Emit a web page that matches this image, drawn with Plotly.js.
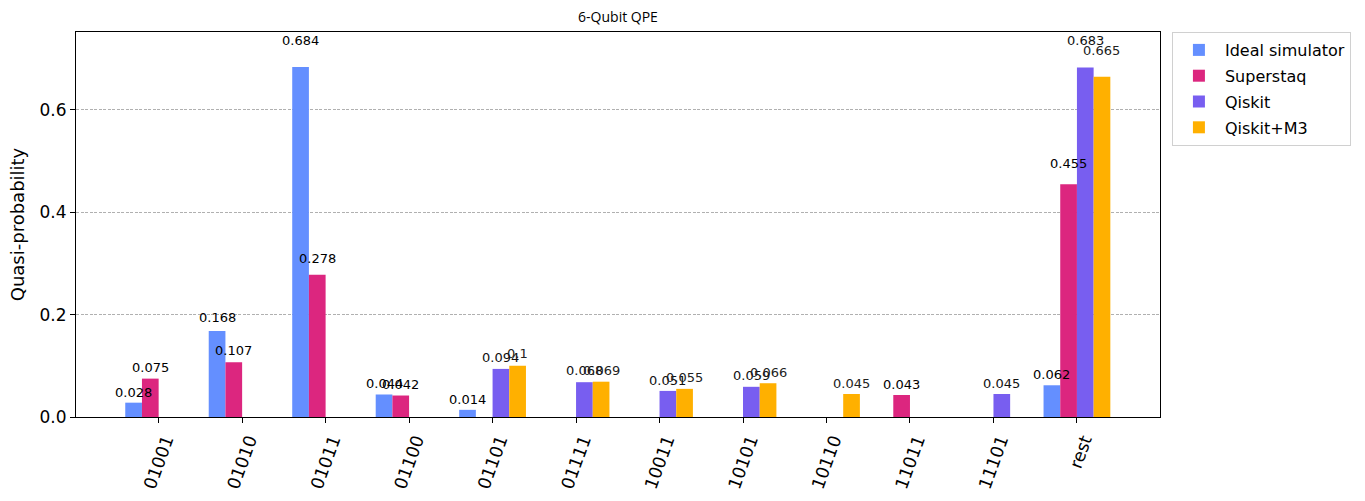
<!DOCTYPE html>
<html lang="en">
<head>
    <meta charset="UTF-8">
    <title>6-Qubit QPE</title>
    <script src="https://cdn.plot.ly/plotly-3.0.1.min.js"></script>
    <style>
        body { margin: 0; background: #fff; }
        #chart { width: 1365px; height: 501px; }
    </style>
</head>
<body>
<div id="chart"></div>

<script>
    // bitstrings on the x axis
    let states = ['01001', '01010', '01011', '01100', '01101', '01111',
        '10011', '10101', '10110', '11011', '11101', 'rest'];

    // quasi-probabilities, null where the bar is missing
    let idealSim = [0.028, 0.168, 0.684, 0.044, 0.014, null, null, null, null, null, null, 0.062];
    let superstaq = [0.075, 0.107, 0.278, 0.042, null, null, null, null, null, 0.043, null, 0.455];
    let qiskit = [null, null, null, null, 0.094, 0.068, 0.051, 0.059, null, null, 0.045, 0.683];
    let qiskitM3 = [null, null, null, null, 0.1, 0.069, 0.055, 0.066, 0.045, null, null, 0.665];

    let seriesNames = ['Ideal simulator', 'Superstaq', 'Qiskit', 'Qiskit+M3'];
    let seriesColors = ['#648fff', '#dc267f', '#785ef0', '#ffb000'];
    let seriesValues = [idealSim, superstaq, qiskit, qiskitM3];

    let font = 'DejaVu Sans, sans-serif';

    let data = [];
    let annotations = [];
    let offsets = [-0.3, -0.1, 0.1, 0.3];
    let labelColors = ['#000', '#000', '#111', '#222'];

    for (let s = 0; s < seriesValues.length; s++) {
        data.push({
            x: states,
            y: seriesValues[s],
            type: 'bar',
            name: seriesNames[s],
            legendgroup: 'g' + s,
            marker: {color: seriesColors[s]},
            hoverinfo: 'x+y+name'
        });

        // value labels just above each bar, like qiskit's plot_histogram
        seriesValues[s].forEach(function (v, i) {
            if (v === null) return;
            annotations.push({
                x: i + offsets[s],
                y: v * 1.05,
                xref: 'x',
                yref: 'y',
                text: String(v),
                showarrow: false,
                xanchor: 'center',
                yanchor: 'bottom',
                font: {family: font, size: 13, color: labelColors[s]}
            });
        });
    }

    let ymax = Math.max(...idealSim.filter(v => v !== null)) * 1.1;

    let layout = {
        width: 1365,
        height: 501,
        margin: {l: 76, r: 205, t: 32, b: 84},
        paper_bgcolor: '#fff',
        plot_bgcolor: '#fff',
        barmode: 'group',
        bargap: 0.2,
        bargroupgap: 0,
        title: {
            text: '6-Qubit QPE',
            font: {family: 'Open Sans, sans-serif', size: 14, color: '#000'},
            x: 0.5 * 1084 / 1365 + 76 / 1365,
            xanchor: 'center',
            y: 1 - 17 / 501,
            yanchor: 'middle'
        },
        xaxis: {
            type: 'category',
            range: [-0.99, 11.995],
            tickangle: -70,
            tickfont: {family: font, size: 17.5, color: '#000'},
            ticklabelshift: 7,
            ticks: 'outside',
            ticklen: 5,
            tickcolor: '#000',
            showline: true,
            linecolor: '#000',
            linewidth: 1,
            mirror: true,
            showgrid: false,
            zeroline: false
        },
        yaxis: {
            range: [0, ymax],
            tickvals: [0, 0.2, 0.4, 0.6],
            tickformat: '.1f',
            tickfont: {family: font, size: 17, color: '#000'},
            ticks: 'outside',
            ticklen: 5,
            tickcolor: '#000',
            showline: true,
            linecolor: '#000',
            linewidth: 1,
            mirror: true,
            showgrid: true,
            gridcolor: '#b0b0b0',
            griddash: '3px,1.5px',
            gridwidth: 1,
            zeroline: false,
            title: {
                text: 'Quasi-probability',
                font: {family: font, size: 18, color: '#000'},
                standoff: 10
            }
        },
        legend: {
            x: 1.011,
            xanchor: 'left',
            y: 1.0,
            yanchor: 'top',
            bgcolor: '#fff',
            bordercolor: '#d0d0d0',
            borderwidth: 1,
            itemwidth: 42,
            font: {family: font, size: 16, color: '#000'},
            tracegroupgap: 2
        },
        annotations: annotations,
        showlegend: true
    };

    Plotly.newPlot('chart', data, layout, {displayModeBar: false, staticPlot: true});
</script>
</body>
</html>
